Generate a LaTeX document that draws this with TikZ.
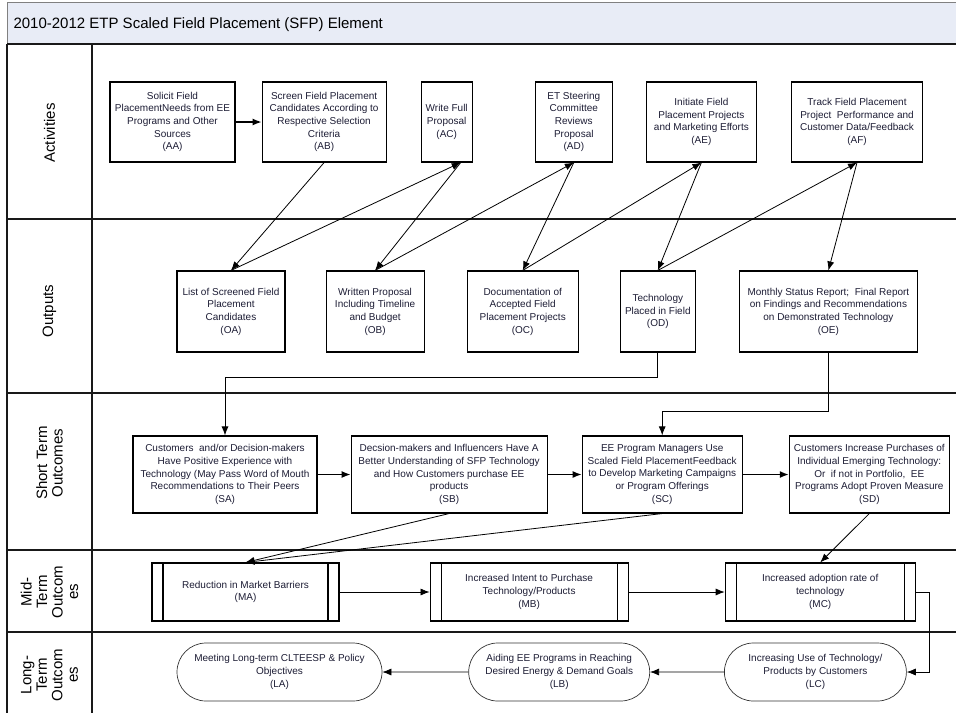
\documentclass[tikz,border=0pt]{standalone}
\usepackage{fontspec}
\setmainfont{Liberation Sans}
\usetikzlibrary{
        arrows.meta,
        positioning,
        shapes.misc
    }
\definecolor{titleblue}{RGB}{232,236,246}
\definecolor{inkblue}{RGB}{28,28,52}
\tikzset{>={Latex[length=9pt,width=7pt]},node distance=30pt}
\tikzset{
    proc/.style={draw,line width=1.1pt,align=center,inner sep=1pt,text=inkblue,
        font=\fontsize{10}{12.7}\selectfont},
    act/.style={proc,minimum height=80pt},
    outp/.style={proc,minimum height=81pt},
    shortout/.style={proc,minimum height=77pt},
    midout/.style={proc,minimum height=58pt,
        path picture={
            \draw[line width=1.1pt] ([xshift=11pt]path picture bounding box.north west)
                -- ([xshift=11pt]path picture bounding box.south west);
            \draw[line width=1.1pt] ([xshift=-11pt]path picture bounding box.north east)
                -- ([xshift=-11pt]path picture bounding box.south east);
        }},
    longout/.style={proc,rounded rectangle,line width=0.7pt,draw=black!80,minimum height=58pt},
    lane/.style={line width=1.2pt,draw=black!90},
    lanelabel/.style={rotate=90,align=center,font=\fontsize{15}{15.5}\selectfont}
}

\begin{document}
\begin{tikzpicture}[x=1pt,y=-1pt]
            \useasboundingbox (0,0) rectangle (956,713);
            % swimlane frame
            \fill[titleblue] (7,2) rectangle (956,44);
            \draw[black!50,line width=0.8pt] (7,44) -- (7,2) -- (956,2);
            \draw[lane] (7,44) -- (7,713);
            \foreach \y in {44,219,393,550,632}
                \draw[lane] (7,\y) -- (956,\y);
            \draw[lane] (92,44) -- (92,713);
            \node[anchor=base west,font=\fontsize{15}{18}\selectfont] (title) at (10,28.5)
                {2010-2012 ETP Scaled Field Placement (SFP) Element};
            \node[lanelabel] (lact) at (49.5,133) {Activities};
            \node[lanelabel] (lout) at (49.5,311) {Outputs};
            \node[lanelabel] (lshort) at (49.5,463) {Short Term\\Outcomes};
            \node[lanelabel] (lmid) at (49.5,592) {Mid-\\Term\\Outcom\\es};
            \node[lanelabel] (llong) at (49.5,675) {Long-\\Term\\Outcom\\es};
            % activities
            \node[act,minimum width=125pt] (aa) at (172.5,122)
                {Solicit Field\\PlacementNeeds from EE\\Programs and Other\\Sources\\(AA)};
            \node[act,minimum width=124pt] (ab) [right=26pt of aa]
                {Screen Field Placement\\Candidates According to\\Respective Selection\\Criteria\\(AB)};
            \node[act,minimum width=51pt] (ac) [right=34pt of ab] {Write Full\\Proposal\\(AC)};
            \node[act,minimum width=77pt] (ad) [right=62pt of ac]
                {ET Steering\\Committee\\Reviews\\Proposal\\(AD)};
            \node[act,minimum width=110pt] (ae) [right=33pt of ad]
                {Initiate Field\\Placement Projects\\and Marketing Efforts\\(AE)};
            \node[act,minimum width=131pt] (af) [right=34pt of ae]
                {Track Field Placement\\Project \ Performance and\\Customer Data/Feedback\\(AF)};
            % outputs
            \node[outp,minimum width=108pt] (oa) at (231,311.5)
                {List of Screened Field\\Placement\\Candidates\\(OA)};
            \node[outp,minimum width=98pt] (ob) [right=40pt of oa]
                {Written Proposal\\Including Timeline\\and Budget\\(OB)};
            \node[outp,minimum width=111pt] (oc) [right=42pt of ob]
                {Documentation of\\Accepted Field\\Placement Projects\\(OC)};
            \node[outp,minimum width=75pt] (od) [right=41pt of oc]
                {Technology\\Placed in Field\\(OD)};
            \node[outp,minimum width=178pt] (oe) [right=43pt of od]
                {Monthly Status Report; \ Final Report\\on Findings and Recommendations\\on Demonstrated Technology\\(OE)};
            % short term outcomes
            \node[shortout,minimum width=184pt] (sa) at (225,474.5)
                {Customers \ and/or Decision-makers\\Have Positive Experience with\\Technology (May Pass Word of Mouth\\Recommendations to Their Peers\\(SA)};
            \node[shortout,minimum width=196pt] (sb) [right=33pt of sa]
                {Decsion-makers and Influencers Have A\\Better Understanding of SFP Technology\\and How Customers purchase EE\\products\\(SB)};
            \node[shortout,minimum width=160pt] (sc) [right=34pt of sb]
                {EE Program Managers Use\\Scaled Field PlacementFeedback\\to Develop Marketing Campaigns\\or Program Offerings\\(SC)};
            \node[shortout,minimum width=160pt] (sd) [right=46pt of sc]
                {Customers Increase Purchases of\\Individual Emerging Technology:\\Or \ if not in Portfolio, \ EE\\Programs Adopt Proven Measure\\(SD)};
            % mid-term outcomes
            \node[midout,minimum width=187pt] (ma) at (245.5,592)
                {Reduction in Market Barriers\\(MA)};
            \node[midout,minimum width=198pt] (mb) [right=90pt of ma]
                {Increased Intent to Purchase\\Technology/Products\\(MB)};
            \node[midout,minimum width=190pt] (mc) [right=96pt of mb]
                {Increased adoption rate of\\technology\\(MC)};
            % long-term outcomes
            \node[longout,minimum width=207pt] (la) at (279.5,672)
                {Meeting Long-term CLTEESP \& Policy\\Objectives\\(LA)};
            \node[longout,minimum width=183pt] (lb) [right=86pt of la]
                {Aiding EE Programs in Reaching\\Desired Energy \& Demand Goals\\(LB)};
            \node[longout,minimum width=184pt] (lc) [right=74pt of lb]
                {Increasing Use of Technology/\\Products by Customers\\(LC)};
            % connectors
            \path[->,line width=1.3pt]
                (aa) edge (ab)
                (sa) edge (sb)
                (sb) edge (sc)
                (sc) edge (sd)
            ;
            \path[->,line width=0.8pt]
                (ab.south) edge (oa.north)
                (oa.north) edge ([xshift=14pt]ac.south)
                ([xshift=14pt]ac.south) edge (ob.north)
                (ob.north) edge (ad.south)
                (ad.south) edge (oc.north)
                (oc.north) edge (ae.south)
                (ae.south) edge (od.north)
                (od.north) edge (af.south)
                (af.south) edge (oe.north)
                (sb.south) edge (ma.north)
                (sc.south) edge (ma.north)
                (sd.south) edge (mc.north)
            ;
            \path[->,line width=0.7pt]
                (ma) edge (mb)
                (mb) edge (mc)
                (lc) edge (lb)
                (lb) edge (la)
            ;
            \draw[->,line width=0.9pt] (od.south) -- ++(0,25) -| (sa.north);
            \draw[->,line width=0.9pt] (oe.south) -- ++(0,59) -| (sc.north);
            \draw[->,line width=0.7pt] (mc.east) -- ++(14,0) |- (lc.east);
        \end{tikzpicture}
\end{document}
